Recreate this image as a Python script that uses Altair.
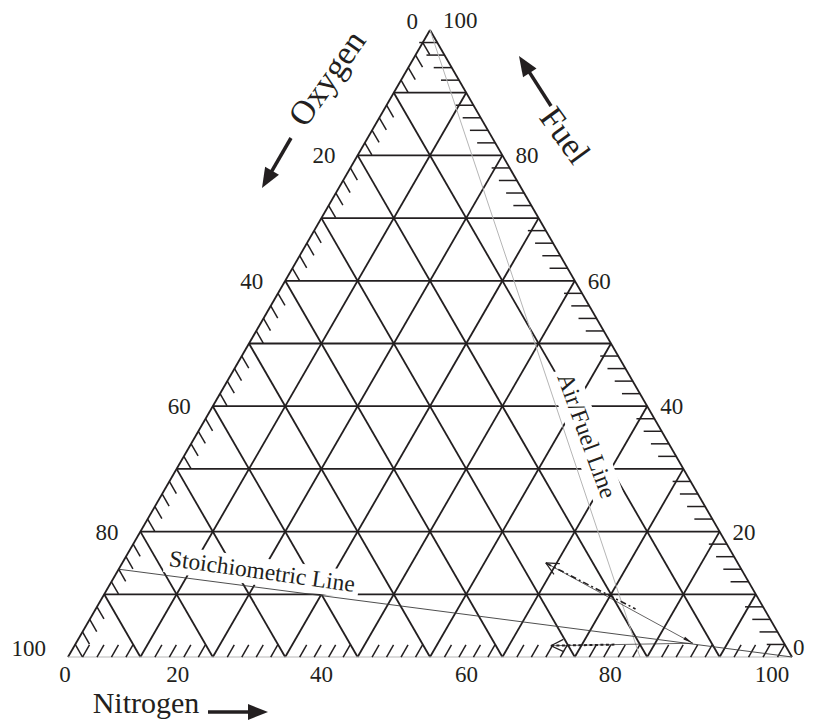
import math
import altair as alt
import pandas as pd

INK = "#231f20"
FONT = "Liberation Serif"

# ---------------- data (mixture fractions) ----------------
GRID_LEVELS = [0.1, 0.2, 0.3, 0.4, 0.5, 0.6, 0.7, 0.8, 0.9]
MINOR_LEVELS = [0.02, 0.04, 0.06, 0.08, 0.12, 0.14, 0.16, 0.18, 0.22, 0.24, 0.26, 0.28,
                0.32, 0.34, 0.36, 0.38, 0.42, 0.44, 0.46, 0.48, 0.52, 0.54, 0.56, 0.58,
                0.62, 0.64, 0.66, 0.68, 0.72, 0.74, 0.76, 0.78, 0.82, 0.84, 0.86, 0.88,
                0.92, 0.94, 0.96, 0.98]
AXIS_VALUES = [0, 20, 40, 60, 80, 100]
# points given as (nitrogen, fuel)
AIR_LINE = [(0.0, 1.0), (0.79, 0.0)]
STOICH_LINE = [(0.0, 0.14), (1.0, 0.0)]
START_POINT = (0.852, 0.022)
MID_POINT = (0.70, 0.10)
DASHDOT_END = (0.585, 0.150)
DOTTED_END = (0.658, 0.018)

# ---------------- layout ----------------
W, H = 724, 627
PAD = {"left": 60, "top": 22, "right": 13, "bottom": 65}
OX = 8 + PAD["left"]
OY = 8 + PAD["top"] + H
BOTTOM_LABEL_DX = [-3, -35, -36, -36, -37, -20]


def tern(n, f):
    return (n + f / 2.0, f)


def from_px(px, py):
    return ((px - OX) / W, (OY - py) / H)


def to_px(x, y):
    return (OX + x * W, OY - y * H)


X = alt.X("x:Q", scale=alt.Scale(domain=[0, 1], nice=False, zero=False), axis=None)
Y = alt.Y("y:Q", scale=alt.Scale(domain=[0, 1], nice=False, zero=False), axis=None)


def seg_layer(rows, color=INK, width=1.6, dash=None):
    df = pd.DataFrame(rows, columns=["x", "y", "x2", "y2"])
    kw = dict(color=color, strokeWidth=width)
    if dash:
        kw["strokeDash"] = dash
    return alt.Chart(df).mark_rule(**kw).encode(x=X, y=Y, x2="x2:Q", y2="y2:Q")


def text_layer(rows, size, angle=0, align="center", color=INK):
    df = pd.DataFrame(rows, columns=["x", "y", "t"])
    return alt.Chart(df).mark_text(
        font=FONT, fontSize=size, angle=angle, align=align, baseline="middle", color=color
    ).encode(x=X, y=Y, text="t:N")


def symbol_layer(x, y, shape, size, angle, color=INK):
    df = pd.DataFrame([(x, y)], columns=["x", "y"])
    return alt.Chart(df).mark_point(
        shape=shape, size=size, angle=angle % 360, filled=True, color=color,
        opacity=1, strokeWidth=0
    ).encode(x=X, y=Y)


def open_head(tip, frm, length=14, spread=26):
    tx, ty = to_px(*tip)
    fx, fy = to_px(*frm)
    ang = math.atan2(fy - ty, fx - tx)
    rows = []
    for s in (-spread, spread):
        a = ang + math.radians(s)
        ex, ey = tx + length * math.cos(a), ty + length * math.sin(a)
        rows.append((tip[0], tip[1]) + from_px(ex, ey))
    return rows


def head_angle(frm_px, tip_px):
    dx, dy = tip_px[0] - frm_px[0], tip_px[1] - frm_px[1]
    return math.degrees(math.atan2(dx, -dy))


# ---------------- grid ----------------
grid = []
for g in GRID_LEVELS:
    grid.append(tern(0, g) + tern(1 - g, g))          # constant fuel
    grid.append(tern(g, 0) + tern(g, 1 - g))          # constant nitrogen
    grid.append(tern(1 - g, 0) + tern(0, 1 - g))      # constant oxygen

edges = [tern(0, 0) + tern(0, 1), tern(1, 0) + tern(0, 1)]
bottom_edge = [tern(0, 0) + tern(1, 0)]

ticks = []
d_right = 18 / W
d_slant = 14 / W
for m in MINOR_LEVELS:
    x0, y0 = tern(1 - m, m)
    ticks.append((x0, y0, x0 - d_right, y0))
    x0, y0 = tern(m, 0)
    ticks.append((x0, y0, x0 + d_slant / 2, d_slant))
    x0, y0 = tern(0, 1 - m)
    ticks.append((x0, y0, x0 + d_slant / 2, y0 - d_slant))

# ---------------- labels ----------------
left_lab, right_lab, bottom_lab = [], [], []
for i, v in enumerate(AXIS_VALUES):
    vert = v in (0, 100)
    # oxygen on left edge
    ex, ey = to_px(*tern(0, 1 - v / 100))
    gap = 12 if v == 0 else 22
    left_lab.append(from_px(ex - gap, ey + (-8 if vert else 1)) + (str(v),))
    # fuel on right edge
    f = v / 100
    ex, ey = to_px(*tern(1 - f, f))
    rgap = 1 if v == 0 else 13
    right_lab.append(from_px(ex + rgap, ey + (-9 if vert else 1)) + (str(v),))
    # nitrogen on bottom
    ex, ey = to_px(*tern(v / 100, 0))
    bottom_lab.append(from_px(ex + BOTTOM_LABEL_DX[i], 675) + (str(v),))

# ---------------- process lines ----------------
A = tern(*START_POINT)
P = tern(*MID_POINT)
B = tern(*DASHDOT_END)
C = tern(*DOTTED_END)
Ap, Pp = to_px(*A), to_px(*P)
P_ext = from_px(Pp[0] + 0.3 * (Ap[0] - Pp[0]), Pp[1] + 0.3 * (Ap[1] - Pp[1]))
Cp = to_px(*C)
C_mid = from_px(Cp[0] + 0.45 * (Ap[0] - Cp[0]), Cp[1] + 0.45 * (Ap[1] - Cp[1]))

air = [tern(*AIR_LINE[0]) + tern(*AIR_LINE[1])]
stoich = [tern(*STOICH_LINE[0]) + tern(*STOICH_LINE[1])]

thin_proc = [A + B, A + C]
dashdot = [B + P_ext]
dotted = [C + C_mid]
heads = open_head(B, A) + open_head(C, A)

narrow = "M0,-1L0.32,1L-0.32,1Z"
tip_back = from_px(Ap[0] - 5 * (Ap[0] - Pp[0]) / math.dist(Ap, Pp),
                   Ap[1] - 5 * (Ap[1] - Pp[1]) / math.dist(Ap, Pp))

# ---------------- titles + arrows ----------------
TITLE_ARROWS = [((208, 712), (268, 712)), ((291, 138), (262, 188)), ((551, 106), (519, 56))]
shafts, head_layers = [], []
big_head = "M0,-1L0.8,1L-0.8,1Z"
for tail, tip in TITLE_ARROWS:
    L = math.dist(tail, tip)
    ux, uy = (tip[0] - tail[0]) / L, (tip[1] - tail[1]) / L
    shafts.append(from_px(*tail) + from_px(tip[0] - 12 * ux, tip[1] - 12 * uy))
    cx, cy = from_px(tip[0] - 10 * ux, tip[1] - 10 * uy)
    head_layers.append(symbol_layer(cx, cy, big_head, 400, head_angle(tail, tip)))

# masks behind inline labels
STOICH_TXT = (262, 572)
AIR_TXT = (586, 436)
mask_stoich = symbol_layer(*from_px(*STOICH_TXT), "M-1,-0.14L1,-0.14L1,0.14L-1,0.14Z",
                           196 ** 2, 8, color="white")
mask_air = symbol_layer(*from_px(*AIR_TXT), "M-1,-0.22L1,-0.22L1,0.22L-1,0.22Z",
                        142 ** 2, 70, color="white")

layers = [
    seg_layer(grid, width=1.8),
    seg_layer(edges, width=1.8),
    seg_layer(bottom_edge, color="#b8b8b8", width=1.2),
    seg_layer(ticks, width=1.5),
    mask_stoich,
    mask_air,
    seg_layer(air, color="#b5b5b5", width=1.0),
    seg_layer(stoich, color="#3a3a3a", width=0.9),
    seg_layer(thin_proc, color=INK, width=0.7),
    seg_layer(dashdot, width=1.6, dash=[6, 3, 2, 3]),
    seg_layer(dotted, width=2.0, dash=[3, 2.5]),
    seg_layer(heads, width=1.2),
    symbol_layer(tip_back[0], tip_back[1], narrow, 100, head_angle(Pp, Ap)),
    seg_layer(shafts, width=3.5),
    *head_layers,
    text_layer(left_lab, 23, align="right"),
    text_layer(right_lab, 23, align="left"),
    text_layer(bottom_lab, 23),
    text_layer([from_px(146, 704) + ("Nitrogen",)], 30),
    text_layer([from_px(328, 79) + ("Oxygen",)], 34, angle=305),
    text_layer([from_px(564, 136) + ("Fuel",)], 34, angle=54),
    text_layer([from_px(*STOICH_TXT) + ("Stoichiometric Line",)], 23.5, angle=8),
    text_layer([from_px(*AIR_TXT) + ("Air/Fuel Line",)], 24, angle=70),
]

chart = alt.layer(*layers).properties(
    width=W, height=H, padding=PAD, autosize=alt.AutoSizeParams(type="none")
).configure_view(stroke=None)

chart.save("out.html", embed_options={"renderer": "svg", "actions": False})
